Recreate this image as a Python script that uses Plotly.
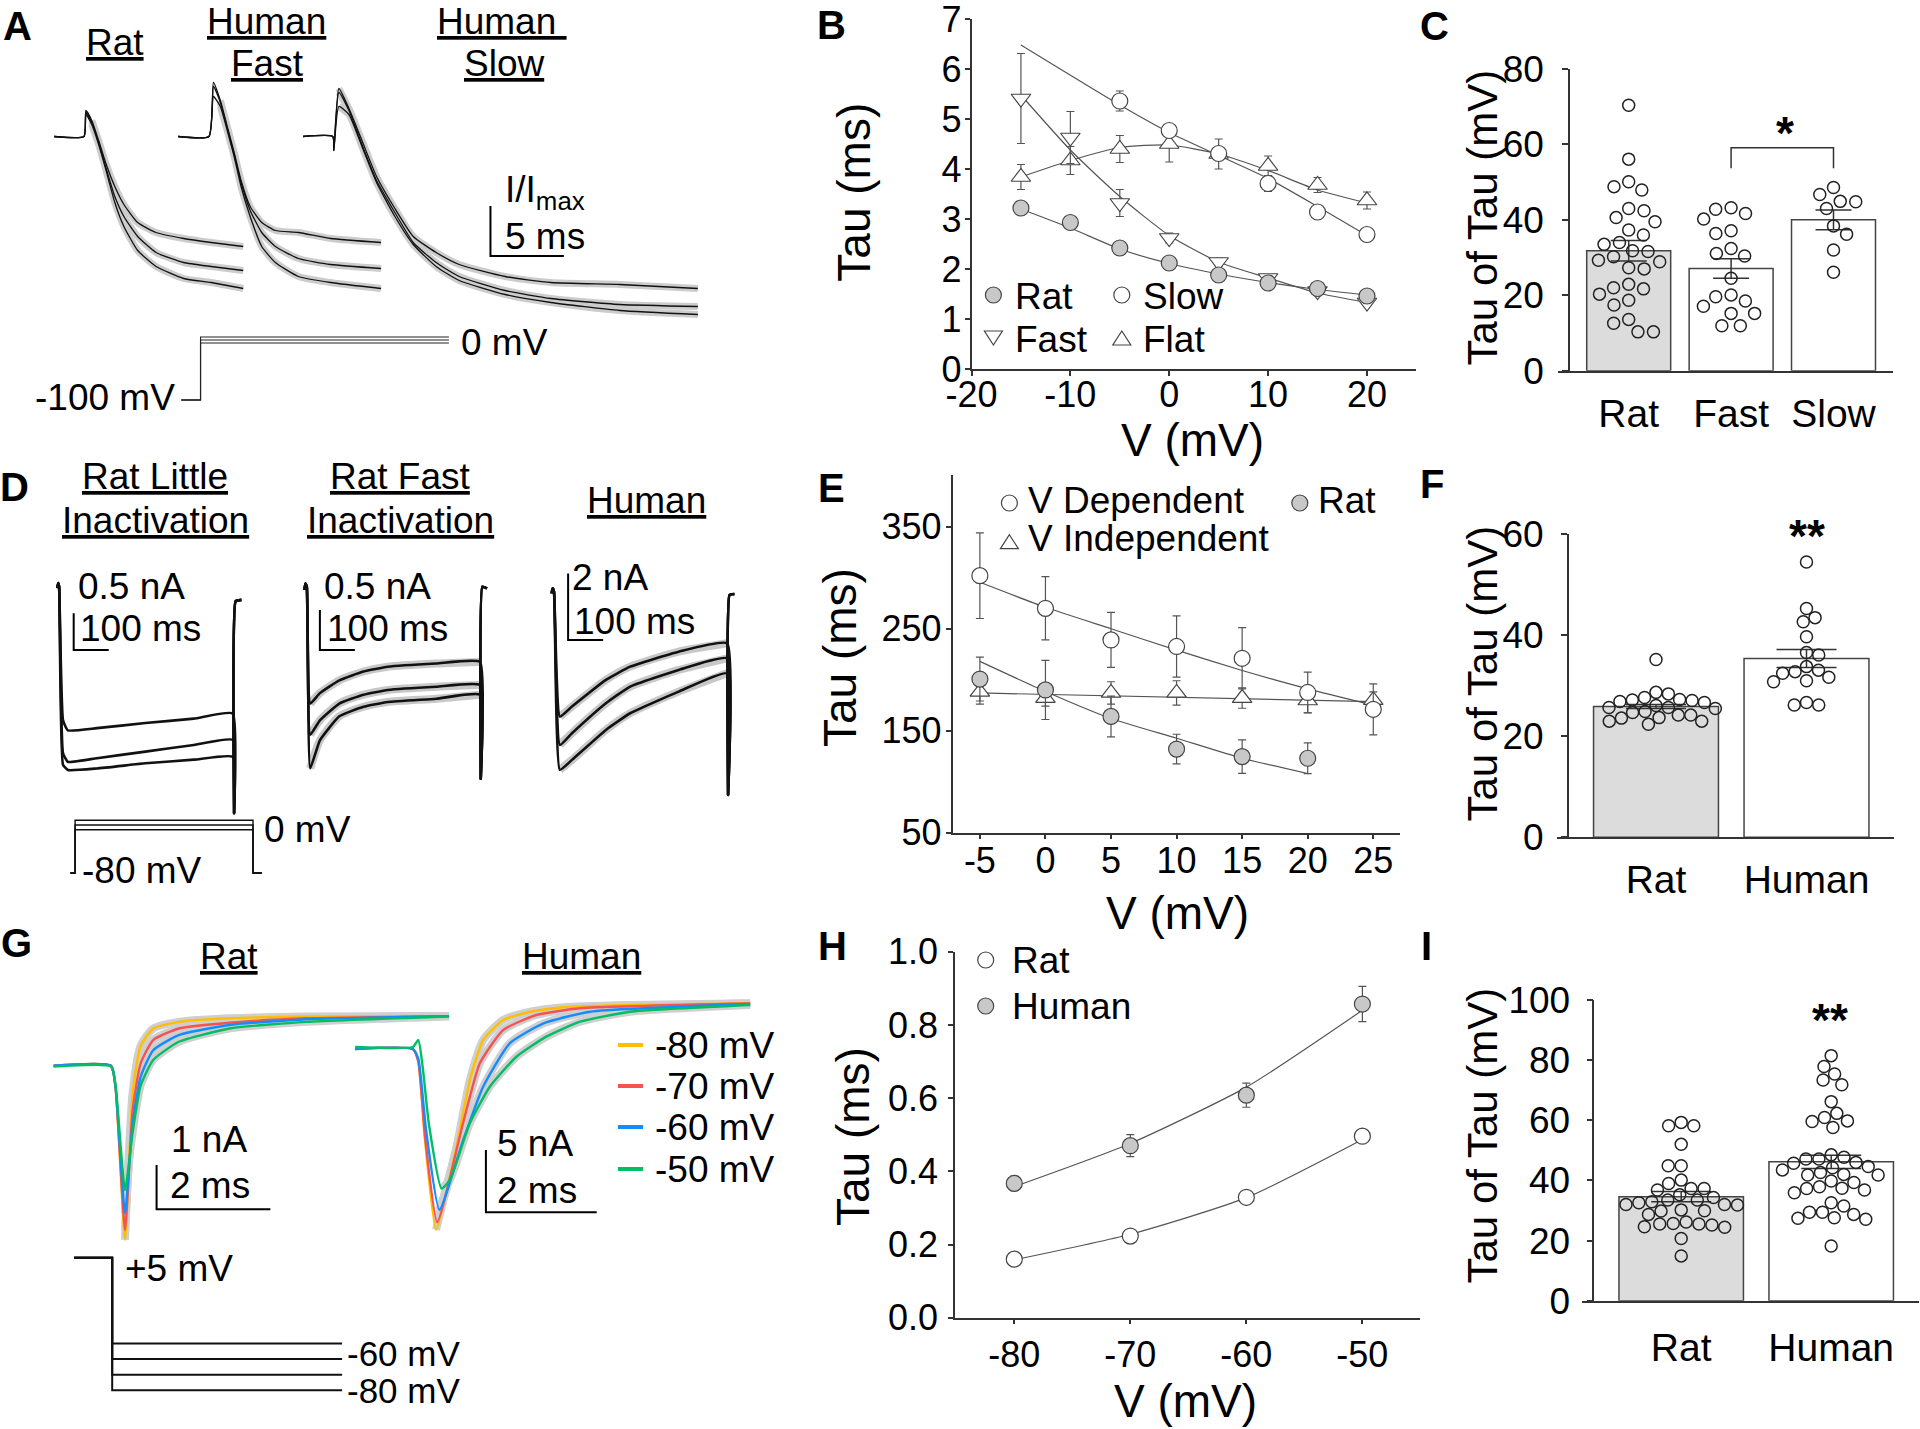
import plotly.graph_objects as go

W, H = 1920, 1429
FONT = "Liberation Sans, Arial, Helvetica, sans-serif"

# ======================= DATA =======================
# ---- Panel A : normalised current vs time (ms from start of each sweep)
A_rat_t = [0, 2.03, 2.16, 2.56, 3.03, 3.50, 4.13, 4.75, 5.69, 6.94, 8.82, 10.69, 12.88]
A_rat_I = [[0, 0, 0.13, 0.08, -0.02, -0.13, -0.25, -0.34, -0.43, -0.48, -0.51, -0.53, -0.55],
           [0, 0, 0.12, 0.07, -0.03, -0.15, -0.30, -0.40, -0.50, -0.58, -0.63, -0.65, -0.67],
           [0, 0, 0.11, 0.06, -0.04, -0.16, -0.33, -0.45, -0.57, -0.65, -0.71, -0.73, -0.76]]
A_fast_t = [0, 2.10, 2.41, 2.88, 3.35, 3.82, 4.29, 4.91, 5.70, 6.63, 8.20, 10.39, 13.83]
A_fast_I = [[0, 0, 0.27, 0.18, 0.05, -0.08, -0.22, -0.35, -0.43, -0.47, -0.48, -0.51, -0.53],
            [0, 0, 0.25, 0.17, 0.04, -0.09, -0.23, -0.37, -0.48, -0.55, -0.61, -0.64, -0.66],
            [0, 0, 0.20, 0.15, 0.03, -0.10, -0.25, -0.40, -0.55, -0.63, -0.70, -0.73, -0.76]]
A_slow_t = [0, 2.03, 2.10, 2.44, 3.13, 4.07, 5.01, 6.26, 7.51, 9.07, 10.64, 13.77, 16.89, 21.58, 26.90]
A_slow_I = [[0, 0, -0.07, 0.24, 0.14, -0.03, -0.20, -0.36, -0.50, -0.58, -0.64, -0.70, -0.73, -0.74, -0.76],
            [0, 0, -0.07, 0.22, 0.13, -0.05, -0.22, -0.38, -0.53, -0.63, -0.70, -0.77, -0.81, -0.84, -0.85],
            [0, 0, -0.07, 0.15, 0.11, -0.06, -0.23, -0.40, -0.54, -0.65, -0.72, -0.79, -0.83, -0.87, -0.89]]
A_prot_t = [0, 1.31, 1.31, 18.23]          # ms
A_hold_mV = -100
A_step_mV = [5, 0, -5]

# ---- Panel B : Tau (ms) vs V (mV)
B_V = [-15, -10, -5, 0, 5, 10, 15, 20]
B_rat = [3.22, 2.93, 2.42, 2.12, 1.88, 1.72, 1.61, 1.46]
B_slow_V = [-5, 0, 5, 10, 15, 20]
B_slow = [5.36, 4.77, 4.31, 3.71, 3.14, 2.69]
B_slow_err = [0.20, 0.10, 0.10, 0.16, 0.10, 0.10]
B_fast = [5.41, 4.63, 3.32, 2.62, 2.14, 1.82, 1.56, 1.33]
B_fast_err = [0.90, 0.52, 0.27, 0.10, 0.08, 0.06, 0.05, 0.05]
B_flat = [3.84, 4.17, 4.40, 4.50, 4.30, 4.06, 3.68, 3.37]
B_flat_err = [0.25, 0.28, 0.27, 0.36, 0.30, 0.20, 0.15, 0.17]
B_fit_rat = [3.20, 2.82, 2.40, 2.11, 1.90, 1.73, 1.59, 1.48]
B_fit_slow_V = [-15, -5, 0, 5, 10, 15, 20]
B_fit_slow = [6.48, 5.28, 4.73, 4.27, 3.81, 3.25, 2.67]
B_fit_fast = [5.48, 4.38, 3.45, 2.67, 2.14, 1.82, 1.52, 1.33]
B_fit_flat = [3.84, 4.17, 4.43, 4.48, 4.30, 3.97, 3.58, 3.32]

# ---- Panel C : Tau of Tau (mV)
C_cats = ["Rat", "Fast", "Slow"]
C_means = [31.8, 27.1, 40.0]
C_sem = [2.7, 2.6, 2.6]
C_rat = [70.4, 56.1, 50.1, 47.9, 48.8, 43.0, 42.4, 40.6, 39.5, 37.3, 36.0, 34.0, 33.5, 31.6, 31.8,
         29.3, 28.9, 30.2, 27.3, 27.0, 22.9, 21.7, 22.0, 18.7, 20.3, 17.4, 12.6, 13.6, 10.3, 10.3]
C_fast = [42.8, 40.2, 41.7, 43.2, 36.4, 37.1, 31.1, 30.4, 32.4, 24.5, 20.1, 18.5, 19.6, 17.1, 15.2,
          15.2, 11.9, 11.9]
C_slow = [48.6, 44.9, 46.7, 44.8, 43.0, 38.4, 36.2, 32.0, 26.1]

# ---- Panel D : currents (nA) vs time (ms from pulse onset)
D1_t = [-5.4, -2.6, 0, 11.1, 25.1, 108, 246.6, 385.1, 496, 500, 504.3, 520.9]
D1_I = [[-0.02, 0.05, 0, -1.82, -1.96, -1.93, -1.86, -1.80, -1.73, -3.09, -0.20, -0.18],
        [-0.02, 0.05, 0, -2.27, -2.39, -2.34, -2.25, -2.16, -2.09, -3.09, -0.20, -0.18],
        [-0.02, 0.05, 0, -2.43, -2.50, -2.48, -2.41, -2.36, -2.32, -3.09, -0.20, -0.18]]
D2_t = [-6.9, -4, 0, 9.7, 37.4, 92.9, 162, 231.4, 370, 494.6, 497, 501.4, 515]
D2_I = [[-0.04, 0.04, 0, -1.46, -1.33, -1.17, -1.06, -1.00, -0.96, -0.94, -2.40, 0.0, -0.02],
        [-0.04, 0.04, 0, -1.85, -1.67, -1.46, -1.35, -1.29, -1.25, -1.23, -2.40, 0.0, -0.02],
        [-0.04, 0.04, 0, -2.27, -1.92, -1.62, -1.50, -1.44, -1.40, -1.35, -2.40, 0.0, -0.02]]
D3_t = [-6.9, -4, 0, 16.7, 51.3, 148.3, 217.7, 356.1, 494.6, 497.4, 501.4, 515.4]
D3_I = [[-0.05, 0.10, 0, -3.75, -3.45, -2.65, -2.25, -1.80, -1.55, -6.10, -0.10, -0.07],
        [-0.05, 0.10, 0, -4.60, -4.25, -3.35, -2.85, -2.35, -2.00, -6.10, -0.10, -0.07],
        [-0.05, 0.10, 0, -5.35, -5.05, -4.15, -3.65, -3.00, -2.45, -6.10, -0.10, -0.07]]
D_prot_t = [-13.7, 0, 0, 508.3, 508.3, 533.4]
D_hold_mV = -80
D_step_mV = [8, 0, -8]

# ---- Panel E : Tau (ms) vs V (mV)
E_V = [-5, 0, 5, 10, 15, 20, 25]
E_dep = [302, 270, 239, 232.6, 221, 187.5, 171]
E_dep_err = [42, 31, 27, 30, 30, 20, 25]
E_ind = [188, 182, 187, 187, 182, 179.6, 180]
E_ind_err = [12, 8, 11, 12, 10, 12, 8]
E_rat_V = [-5, 0, 5, 10, 15, 20]
E_rat = [200.6, 190, 164, 132, 124.6, 123]
E_rat_err = [21.5, 29, 20, 14.5, 16.5, 15]
E_fit_dep = [295.5, 271, 250, 229, 209, 191, 175]
E_fit_ind_V = [-5, 25]
E_fit_ind = [187, 178.6]
E_fit_rat = [218, 188.5, 162, 142.6, 123, 108]

# ---- Panel F
F_cats = ["Rat", "Human"]
F_means = [25.9, 35.4]
F_sem = [0.4, 1.8]
F_rat = [35.2, 28.7, 27.7, 27.2, 26.9, 26.7, 27.1, 27.3, 28.4, 26.1, 25.7, 24.7, 24.2, 23.7, 23.0,
         22.4, 23.0, 23.6, 24.2, 24.9, 25.5, 25.7]
F_hum = [54.5, 45.3, 43.5, 42.7, 39.7, 36.1, 36.6, 33.1, 32.5, 31.0, 30.8, 31.7, 32.8, 33.8, 26.7,
         26.2, 26.2]

# ---- Panel G : currents (nA) vs time (ms from step onset)
G_labels = ["-80 mV", "-70 mV", "-60 mV", "-50 mV"]
G_colors = ["#FFBE00", "#F55252", "#148CFF", "#00BE64"]
G_rat_t = [-1.03, -0.02, 0.06, 0.225, 0.36, 0.50, 0.72, 1.17, 2.06, 3.41, 5.92]
G_rat_I = [[0, 0, -0.5, -3.93, -0.6, 0.45, 0.84, 0.99, 1.07, 1.11, 1.12],
           [0, 0, -0.5, -3.71, -1.0, 0.05, 0.58, 0.84, 0.97, 1.07, 1.12],
           [0, 0, -0.5, -3.33, -1.3, -0.25, 0.35, 0.69, 0.92, 1.05, 1.12],
           [-0.02, -0.02, -0.45, -2.81, -1.5, -0.45, 0.13, 0.54, 0.84, 0.99, 1.11]]
G_hum_t = [[-1.08, -0.04, 0.06, 0.18, 0.38, 0.75, 0.99, 1.23, 1.59, 2.08, 2.68, 3.88, 6.05],
           [-1.08, -0.04, 0.06, 0.18, 0.40, 0.87, 1.17, 1.59, 2.19, 2.98, 6.05],
           [-1.08, -0.04, 0.06, 0.20, 0.44, 0.87, 1.23, 1.71, 2.32, 3.16, 6.05],
           [-1.08, -0.04, 0.06, 0.14, 0.25, 0.48, 0.63, 0.99, 1.35, 1.83, 2.37, 2.98, 3.88, 6.05]]
G_hum_I = [[0, 0, -1.0, -7.3, -14.5, -7.84, -2.49, 0.72, 2.33, 2.99, 3.35, 3.53, 3.67],
           [0, 0, -1.0, -7.0, -13.9, -5.9, -1.15, 1.52, 2.73, 3.27, 3.65],
           [0, 0, -0.8, -6.5, -12.9, -7.3, -3.03, 0.46, 2.06, 2.99, 3.61],
           [0.16, 0.16, 0.72, -1.5, -6.0, -11.2, -10.5, -5.96, -3.03, -0.62, 0.99, 2.19, 2.99, 3.53]]
G_hum_min_idx = [4, 4, 4, 5]
G_prot_t = [-0.67, 0, 0, 4.04]
G_prot_top_mV = 5
G_prot_mV = [-50, -60, -70, -80]

# ---- Panel H
H_V = [-80, -70, -60, -50]
H_rat = [0.160, 0.223, 0.329, 0.496]
H_hum = [0.367, 0.470, 0.608, 0.857]
H_hum_err = [0.020, 0.030, 0.033, 0.048]
H_fit_rat = [0.158, 0.228, 0.328, 0.487]
H_fit_hum = [0.358, 0.476, 0.630, 0.840]

# ---- Panel I
I_cats = ["Rat", "Human"]
I_means = [34.6, 46.2]
I_sem = [1.7, 2.2]
I_rat = [59.3, 58.2, 58.2, 52.0, 44.9, 44.9, 40.1, 39.0, 37.3, 36.8, 37.3, 35.2, 33.5, 32.6, 32.0,
         31.8, 32.0, 32.9, 33.5, 34.3, 29.8, 28.7, 29.9, 30.2, 25.7, 25.5, 24.6, 24.4, 25.2, 25.5,
         26.2, 20.7, 14.9]
I_hum = [81.5, 77.9, 75.4, 73.4, 71.8, 66.2, 62.3, 60.9, 59.8, 59.6, 57.6, 48.5, 47.1, 46.0, 44.6,
         43.5, 42.6, 44.2, 45.7, 47.1, 47.7, 42.0, 39.8, 37.9, 37.3, 35.9, 36.8, 37.4, 39.3, 41.8,
         41.8, 32.6, 29.4, 28.7, 27.4, 27.1, 27.6, 29.4, 31.5, 18.2]

# ======================= LAYOUT HELPERS =======================
layout = dict(template="none", width=W, height=H,
              margin=dict(l=0, r=0, t=0, b=0, pad=0, autoexpand=False),
              paper_bgcolor="white", plot_bgcolor="rgba(0,0,0,0)", showlegend=False,
              font=dict(family=FONT, color="black", size=36))
shapes, annots = [], []
AX = {}
fig = go.Figure()


def make_axes(key, n, xpx, ypx, xr, yr):
    s = "" if n == 1 else str(n)
    base = dict(visible=False, fixedrange=True, showgrid=False, zeroline=False, automargin=False)
    layout["xaxis" + s] = dict(domain=[xpx[0] / W, xpx[1] / W], range=list(xr), anchor="y" + s, **base)
    layout["yaxis" + s] = dict(domain=[1 - ypx[1] / H, 1 - ypx[0] / H], range=list(yr), anchor="x" + s, **base)
    AX[key] = ("x" + s, "y" + s)
    return layout["xaxis" + s], layout["yaxis" + s]


def style(vals, texts, ticklen, standoff, size, ticks="outside"):
    return dict(visible=True, showline=True, linecolor="#333", linewidth=1.5,
                ticks=ticks, ticklen=ticklen, tickwidth=1.5, tickcolor="#333",
                tickmode="array", tickvals=vals, ticktext=texts, tickangle=0,
                tickfont=dict(family=FONT, size=size, color="black"),
                ticklabelstandoff=standoff, showticklabels=True)


def line_tr(key, x, y, color="#111", width=1.5, shape="spline", smooth=0.6):
    xa, ya = AX[key]
    ln = dict(color=color, width=width, shape=shape)
    if shape == "spline":
        ln["smoothing"] = smooth
    fig.add_trace(go.Scatter(x=x, y=y, xaxis=xa, yaxis=ya, mode="lines", line=ln,
                             hoverinfo="skip", showlegend=False))


def mark_tr(key, x, y, symbol, fill, size=16, err=None, lc="#444", lw=1.2):
    xa, ya = AX[key]
    kw = {}
    if err is not None:
        kw["error_y"] = dict(type="data", array=err, color="#555", thickness=1.2, width=4)
    fig.add_trace(go.Scatter(x=x, y=y, xaxis=xa, yaxis=ya, mode="markers",
                             marker=dict(symbol=symbol, size=size, color=fill,
                                         line=dict(color=lc, width=lw)),
                             hoverinfo="skip", showlegend=False, **kw))


def txt(t, x, y, size=37, xa="center", ya="middle", angle=0, bold=False):
    annots.append(dict(text=("<b>%s</b>" % t) if bold else t, x=x / W, y=1 - y / H,
                       xref="paper", yref="paper", xanchor=xa, yanchor=ya, showarrow=False,
                       textangle=angle, font=dict(family=FONT, size=size, color="black")))


def scalebar(key, x0, y0, dx, dy, w=2):
    xa, ya = AX[key]
    shapes.append(dict(type="path", xref=xa, yref=ya, layer="above",
                       path="M %g,%g L %g,%g L %g,%g" % (x0, y0 + dy, x0, y0, x0 + dx, y0),
                       line=dict(color="black", width=w)))


def key_circle(cx, cy, d, fill):
    shapes.append(dict(type="circle", xref="paper", yref="paper",
                       x0=(cx - d / 2) / W, x1=(cx + d / 2) / W,
                       y0=1 - (cy + d / 2) / H, y1=1 - (cy - d / 2) / H,
                       fillcolor=fill, line=dict(color="#444", width=1.2)))


def key_tri(cx, cy, w, h, up=True):
    if up:
        pts = [(cx, cy - h / 2), (cx + w / 2, cy + h / 2), (cx - w / 2, cy + h / 2)]
    else:
        pts = [(cx, cy + h / 2), (cx + w / 2, cy - h / 2), (cx - w / 2, cy - h / 2)]
    path = "M " + " L ".join("%g,%g" % (px / W, 1 - py / H) for px, py in pts) + " Z"
    shapes.append(dict(type="path", xref="paper", yref="paper", path=path,
                       fillcolor="white", line=dict(color="#444", width=1.2)))


def key_line(x0, x1, y, color, w=4):
    shapes.append(dict(type="line", xref="paper", yref="paper", x0=x0 / W, x1=x1 / W,
                       y0=1 - y / H, y1=1 - y / H, line=dict(color=color, width=w)))


def beeswarm(vals, ppu_y, ppu_x, diam):
    n = len(vals)
    order = sorted(range(n), key=lambda i: -vals[i])
    placed, offs, flip = [], [0.0] * n, 1
    for i in order:
        y = vals[i] * ppu_y
        cands = [0.0]
        for xj, yj in placed:
            dy = y - yj
            if abs(dy) < diam:
                dx = (diam * diam - dy * dy) ** 0.5
                cands += [xj + dx, xj - dx]
        cands.sort(key=lambda c: (round(abs(c), 6), -c * flip))
        best = 0.0
        for c in cands:
            if all((c - xj) ** 2 + (y - yj) ** 2 >= diam * diam - 1e-6 for xj, yj in placed):
                best = c
                break
        offs[i] = best / ppu_x
        placed.append((best, y))
        flip = -flip
    return offs


# ======================= AXES =======================
make_axes("A", 1, (0, 760), (0, 430), (0, 760 / 14.68), ((136.5 - 430) / 200, 136.5 / 200))
make_axes("Ap", 2, (0, 760), (320, 420), (0, 760 / 14.68), (-133.33, 33.33))
xb, yb = make_axes("B", 3, (971.5, 1416.4), (19, 369), (-20, 25), (0, 7))
xc, yc = make_axes("C", 4, (1558, 1893), (69, 370.7), (-0.6904, 2.581), (0, 80))
make_axes("D1", 5, (40, 260), (560, 840), (-54.57, 574.0), (-3.456, 0.364))
make_axes("D2", 6, (290, 510), (560, 840), (-48.0, 580.57), (-3.166, 0.334))
make_axes("D3", 7, (540, 760), (560, 840), (-40.0, 588.57), (-7.456, 0.952))
make_axes("Dp", 8, (40, 300), (800, 890), (-100.29, 642.57), (-108.33, 41.67))
xe, ye = make_axes("E", 9, (952.6, 1399.5), (475, 832.7), (-7.08, 27.0), (50, 400.7))
xf, yf = make_axes("F", 10, (1556.7, 1894.3), (534.3, 837.3), (-0.6598, 1.5834), (0, 60))
make_axes("Gr", 11, (40, 460), (990, 1260), (-1.2689, 6.1125), (-4.386, 1.7088))
make_axes("Gh", 12, (340, 760), (980, 1260), (-1.3538, 6.2274), (-16.934, 5.5377))
make_axes("Gp", 13, (40, 460), (1240, 1400), (-1.2689, 6.1125), (-86.22, 16.35))
xh, yh = make_axes("H", 14, (955.1, 1420.4), (951.7, 1317.7), (-85.1, -45.0), (0, 1))
xi, yi = make_axes("I", 15, (1582.3, 1919), (1000, 1300.7), (-0.6593, 1.5853), (0, 100))

xb.update(style([-20, -10, 0, 10, 20], ["-20", "-10", "0", "10", "20"], 5, -12, 36))
yb.update(style(list(range(8)), [str(v) for v in range(8)], 5, -4, 36))
xe.update(style([-5, 0, 5, 10, 15, 20, 25], ["-5", "0", "5", "10", "15", "20", "25"], 5, -10, 36))
ye.update(style([50, 150, 250, 350], ["50", "150", "250", "350"], 5, -3, 36))
xh.update(style([-80, -70, -60, -50], ["-80", "-70", "-60", "-50"], 5, -1, 36))
yh.update(style([0, 0.2, 0.4, 0.6, 0.8, 1.0], ["0.0", "0.2", "0.4", "0.6", "0.8", "1.0"], 5, 3, 36))

xc.update(style([0, 1, 2], C_cats, 0, 8, 39, ticks=""))
yc.update(style([0, 20, 40, 60, 80], ["0", "20", "40", "60", "80"], 6, 11, 37))
yc.update(anchor="free", position=1569 / W)
xf.update(style([0, 1], F_cats, 0, 7, 39, ticks=""))
yf.update(style([0, 20, 40, 60], ["0", "20", "40", "60"], 6, 10, 37))
yf.update(anchor="free", position=1567.7 / W)
xi.update(style([0, 1], I_cats, 0, 12, 39, ticks=""))
yi.update(style([0, 20, 40, 60, 80, 100], ["0", "20", "40", "60", "80", "100"], 6, 9, 37))
yi.update(anchor="free", position=1593.3 / W)

# ======================= PANEL A =======================
A_OFF = {"rat": 3.69, "fast": 12.13, "slow": 20.64}
for name, tt, II in (("rat", A_rat_t, A_rat_I), ("fast", A_fast_t, A_fast_I), ("slow", A_slow_t, A_slow_I)):
    xs = [t + A_OFF[name] for t in tt]
    for I in II:
        line_tr("A", xs[3:], I[3:], color="#cccccc", width=7)
for name, tt, II in (("rat", A_rat_t, A_rat_I), ("fast", A_fast_t, A_fast_I), ("slow", A_slow_t, A_slow_I)):
    xs = [t + A_OFF[name] for t in tt]
    for I in II:
        line_tr("A", xs, I, color="#111", width=1.3, smooth=0.5)
A_PROT_T0 = 12.35
for s in A_step_mV:
    line_tr("Ap", [t + A_PROT_T0 for t in A_prot_t], [A_hold_mV, A_hold_mV, s, s],
            color="#222", width=1.1, shape="linear")
scalebar("A", 33.41, -0.5975, 5, 0.25)

txt("A", 17, 26, 40, bold=True)
txt("<u>Rat</u>", 114.8, 42)
txt("<u>Human</u>", 266.8, 21)
txt("<u>Fast</u>", 267.7, 63)
txt("<u>Human\u00a0</u>", 502, 21)
txt("<u>Slow</u>", 503.7, 63)
txt("-100 mV", 176.8, 397, xa="right")
txt("0 mV", 459.1, 343, xa="left")
txt("I/I<sub>max</sub>", 502.8, 192, xa="left")
txt("5 ms", 502.8, 236, xa="left")

# ======================= PANEL B =======================
line_tr("B", B_V, B_fit_rat, color="#555", width=1.2)
line_tr("B", B_fit_slow_V, B_fit_slow, color="#555", width=1.2)
line_tr("B", B_V, B_fit_fast, color="#555", width=1.2)
line_tr("B", B_V, B_fit_flat, color="#555", width=1.2)
mark_tr("B", B_V, B_flat, "triangle-up", "white", size=17, err=B_flat_err)
mark_tr("B", B_V, B_fast, "triangle-down", "white", size=17, err=B_fast_err)
mark_tr("B", B_slow_V, B_slow, "circle", "white", size=16, err=B_slow_err)
mark_tr("B", B_V, B_rat, "circle", "#c8c8c8", size=16)
txt("B", 831, 25, 40, bold=True)
txt("Tau (ms)", 853.7, 192, 46, angle=-90)
txt("V (mV)", 1192, 440, 46)
key_circle(993.4, 295, 16, "#c8c8c8")
key_circle(1121.8, 295, 16, "white")
key_tri(993.4, 338, 18, 14, up=False)
key_tri(1121.8, 338, 18, 14, up=True)
txt("Rat", 1013, 297, xa="left")
txt("Slow", 1141, 297, xa="left")
txt("Fast", 1013, 339, xa="left")
txt("Flat", 1141, 339, xa="left")

# ======================= BAR PANELS (C, F, I) =======================
def bar_panel(key, cats_n, means, sem, groups, ppu_y, ppu_x, bw, capw, diam):
    xa, ya = AX[key]
    fills = ["#dcdcdc"] + ["white"] * (cats_n - 1)
    fig.add_trace(go.Bar(x=list(range(cats_n)), y=means, width=bw, xaxis=xa, yaxis=ya,
                         marker=dict(color=fills, line=dict(color="#444", width=1.5)),
                         error_y=dict(type="data", array=sem, color="#333", thickness=1.5, width=capw),
                         hoverinfo="skip", showlegend=False))
    for gi, vals in enumerate(groups):
        offs = beeswarm(vals, ppu_y, ppu_x, diam)
        fig.add_trace(go.Scatter(x=[gi + o for o in offs], y=vals, xaxis=xa, yaxis=ya, mode="markers",
                                 marker=dict(symbol="circle-open", size=12, color="#222",
                                             line=dict(color="#222", width=1.5)),
                                 hoverinfo="skip", showlegend=False))


bar_panel("C", 3, C_means, C_sem, [C_rat, C_fast, C_slow], 301.7 / 80, 102.4, 0.82, 18, 15.5)
shapes.append(dict(type="path", xref=AX["C"][0], yref=AX["C"][1], path="M 1,53.7 L 1,59.1 L 2,59.1 L 2,53.7",
                   line=dict(color="#333", width=1.5)))
txt("C", 1434, 26, 40, bold=True)
txt("Tau of Tau (mV)", 1481.5, 218, 42, angle=-90)
txt("*", 1785, 133, 46, bold=True)

bar_panel("F", 2, F_means, F_sem, [F_rat, F_hum], 303 / 60, 150.5, 0.83, 30, 12.5)
txt("F", 1432, 484, 40, bold=True)
txt("Tau of Tau (mV)", 1481.5, 674, 42, angle=-90)
txt("**", 1806.7, 536, 46, bold=True)

bar_panel("I", 2, I_means, I_sem, [I_rat, I_hum], 300.7 / 100, 150, 0.83, 30, 13)
txt("I", 1426, 946, 40, bold=True)
txt("Tau of Tau (mV)", 1481.5, 1136, 42, angle=-90)
txt("**", 1830, 1020, 46, bold=True)

# ======================= PANEL D =======================
for I in D2_I:
    line_tr("D2", D2_t[3:10], I[3:10], color="#c8c8c8", width=8)
for I in D3_I:
    line_tr("D3", D3_t[3:9], I[3:9], color="#c8c8c8", width=8)
for key, tt, II in (("D1", D1_t, D1_I), ("D2", D2_t, D2_I), ("D3", D3_t, D3_I)):
    for I in II:
        line_tr(key, tt, I, color="#111", width=2.6, smooth=0.4)
for s in D_step_mV:
    line_tr("Dp", D_prot_t, [D_hold_mV, D_hold_mV, s, s, D_hold_mV, D_hold_mV],
            color="#111", width=1.4, shape="linear")
scalebar("D1", 41.7, -0.864, 100, 0.5)
scalebar("D2", 37.4, -0.791, 100, 0.5)
scalebar("D3", 40.3, -1.45, 100, 2)
txt("D", 14, 487, 40, bold=True)
txt("<u>Rat Little</u>", 155.1, 476)
txt("<u>Inactivation</u>", 155.1, 520)
txt("<u>Rat Fast</u>", 400.5, 476)
txt("<u>Inactivation</u>", 400.5, 520)
txt("<u>Human</u>", 646.2, 500)
txt("0.5 nA", 76, 586, xa="left")
txt("100 ms", 78, 628, xa="left")
txt("0.5 nA", 322, 586, xa="left")
txt("100 ms", 325, 628, xa="left")
txt("2 nA", 570, 577, xa="left")
txt("100 ms", 572, 622, xa="left")
txt("0 mV", 262, 830, xa="left")
txt("-80 mV", 80, 870, xa="left")

# ======================= PANEL E =======================
line_tr("E", E_V, E_fit_dep, color="#555", width=1.2)
line_tr("E", E_fit_ind_V, E_fit_ind, color="#555", width=1.2, shape="linear")
line_tr("E", E_rat_V, E_fit_rat, color="#555", width=1.2)
mark_tr("E", E_V, E_ind, "triangle-up", "white", size=17, err=E_ind_err)
mark_tr("E", E_rat_V, E_rat, "circle", "#c8c8c8", size=16, err=E_rat_err)
mark_tr("E", E_V, E_dep, "circle", "white", size=16, err=E_dep_err)
txt("E", 831.5, 488, 40, bold=True)
txt("Tau (ms)", 840, 658, 46, angle=-90)
txt("V (mV)", 1177.7, 913, 46)
key_circle(1009.4, 503, 16, "white")
key_circle(1299.8, 503, 16, "#c8c8c8")
key_tri(1009.4, 541.7, 18, 14, up=True)
txt("V Dependent", 1026, 500, xa="left")
txt("Rat", 1316, 500, xa="left")
txt("V Independent", 1026, 538, xa="left")

# ======================= PANEL G =======================
for k in range(4):
    line_tr("Gr", G_rat_t[3:], G_rat_I[k][3:], color="#cfcfcf", width=8)
    m = G_hum_min_idx[k]
    line_tr("Gh", G_hum_t[k][m:], G_hum_I[k][m:], color="#cfcfcf", width=8)
for k in range(4):
    line_tr("Gr", G_rat_t, G_rat_I[k], color=G_colors[k], width=2.4, smooth=0.5)
    line_tr("Gh", G_hum_t[k], G_hum_I[k], color=G_colors[k], width=2.4, smooth=0.5)
for v in G_prot_mV:
    line_tr("Gp", G_prot_t, [G_prot_top_mV, G_prot_top_mV, v, v], color="#111", width=2, shape="linear")
scalebar("Gr", 0.78, -3.24, 2, 1)
scalebar("Gh", 1.28, -13.1, 2, 5)
txt("G", 16.5, 943, 40, bold=True)
txt("<u>Rat</u>", 228.6, 956)
txt("<u>Human</u>", 581.6, 956)
txt("1 nA", 169, 1139, xa="left")
txt("2 ms", 168, 1185, xa="left")
txt("5 nA", 495, 1143, xa="left")
txt("2 ms", 495, 1190, xa="left")
for k, yy in enumerate([1045, 1086, 1127, 1169]):
    key_line(618, 643, yy, G_colors[k])
    txt(G_labels[k], 653, yy, xa="left")
txt("+5 mV", 123, 1268, xa="left")
txt("-60 mV", 345, 1353, 35, xa="left")
txt("-80 mV", 345, 1390, 35, xa="left")

# ======================= PANEL H =======================
line_tr("H", H_V, H_fit_rat, color="#555", width=1.2)
line_tr("H", H_V, H_fit_hum, color="#555", width=1.2)
mark_tr("H", H_V, H_rat, "circle", "white", size=16)
mark_tr("H", H_V, H_hum, "circle", "#c8c8c8", size=16, err=H_hum_err)
txt("H", 832.7, 946, 40, bold=True)
txt("Tau (ms)", 853, 1137, 46, angle=-90)
txt("V (mV)", 1185.7, 1401, 46)
key_circle(985.7, 960, 16, "white")
key_circle(985.7, 1006, 16, "#c8c8c8")
txt("Rat", 1010, 960, xa="left")
txt("Human", 1010, 1006, xa="left")

layout["shapes"] = shapes
layout["annotations"] = annots
fig.update_layout(**layout)
fig.write_html("out.html", config={"displayModeBar": False},
               post_script="document.body.style.margin='0';")
